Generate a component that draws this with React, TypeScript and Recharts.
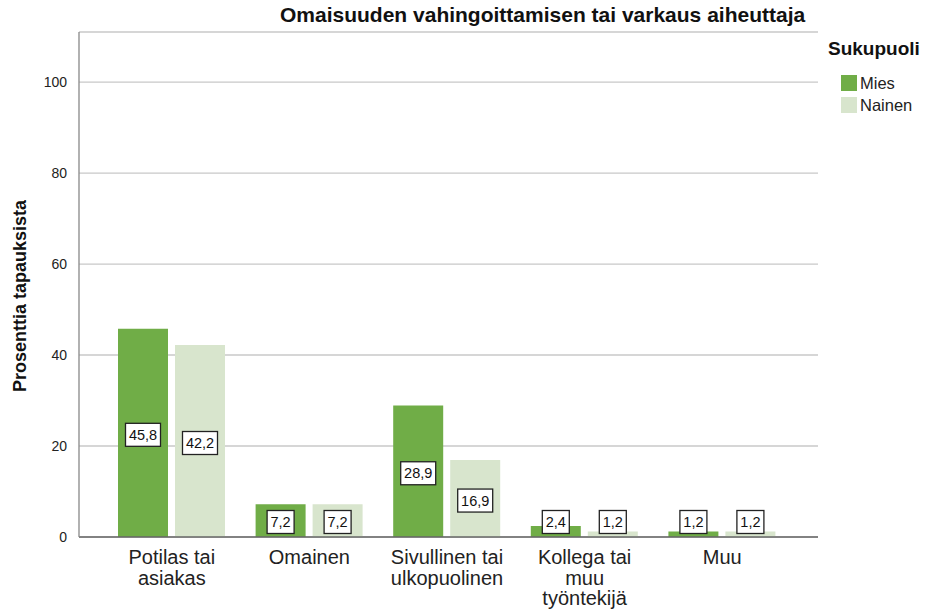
import { BarChart, Bar, XAxis, YAxis, CartesianGrid, LabelList } from 'recharts';

const categories = ['Potilas tai asiakas', 'Omainen', 'Sivullinen tai ulkopuolinen', 'Kollega tai muu työntekijä', 'Muu'];
const tickLines = [['Potilas tai', 'asiakas'], ['Omainen'], ['Sivullinen tai', 'ulkopuolinen'], ['Kollega tai', 'muu', 'työntekijä'], ['Muu']];
const mies = [45.8, 7.2, 28.9, 2.4, 1.2];
const nainen = [42.2, 7.2, 16.9, 1.2, 1.2];
const yTicks = [0, 20, 40, 60, 80, 100];
const seriesNames = ['Mies', 'Nainen'];

const data = categories.map((c, i) => ({ name: c, Mies: mies[i], Nainen: nainen[i] }));

const FONT = '"Liberation Sans", Arial, sans-serif';
const MIES = '#70ad47';
const NAINEN = '#d8e5cd';
const colors = [MIES, NAINEN];

const ValueBox = (props: any) => {
  const { x, y, width, height, value } = props;
  const txt = String(value).replace('.', ',');
  const bottom = y + height;
  const cy = Math.min(y + height / 2 + 2, bottom - 15);
  const cx = x + width / 2;
  const w = txt.length * 8 + 3;
  const h = 23;
  return (
    <g>
      <rect x={cx - w / 2} y={cy - h / 2} width={w} height={h} fill="#fff" stroke="#222" strokeWidth={1.3} />
      <text x={cx} y={cy + 5} textAnchor="middle" fontSize={14.5} fontFamily={FONT} fill="#111">
        {txt}
      </text>
    </g>
  );
};

const XTick = (props: any) => {
  const { x, y, index } = props;
  const lines = tickLines[index] || [];
  return (
    <g>
      {lines.map((l: string, i: number) => (
        <text key={i} x={x} y={y + 19 + i * 20.5} textAnchor="middle" fontSize={20} fontFamily={FONT} fill="#222">
          {l}
        </text>
      ))}
    </g>
  );
};

const YLabel = () => {
  const cx = 20;
  const cy = 296;
  return (
    <text
      x={cx}
      y={cy}
      transform={`rotate(-90 ${cx} ${cy})`}
      textAnchor="middle"
      dominantBaseline="central"
      fontSize={18}
      fontWeight="bold"
      fontFamily={FONT}
      fill="#111"
    >
      Prosenttia tapauksista
    </text>
  );
};

export default function App() {
  return (
    <div style={{ position: 'absolute', left: 0, top: 0, width: 931, height: 613, background: '#fff' }}>
      <div
        style={{
          position: 'absolute',
          left: 280,
          top: 3,
          fontFamily: FONT,
          fontWeight: 'bold',
          fontSize: 21,
          color: '#111',
          whiteSpace: 'nowrap',
        }}
      >
        Omaisuuden vahingoittamisen tai varkaus aiheuttaja
      </div>
      <div style={{ position: 'absolute', left: 828, top: 38, fontFamily: FONT }}>
        <div style={{ fontSize: 19, fontWeight: 'bold', color: '#111', height: 34 }}>Sukupuoli</div>
        {seriesNames.map((n, i) => (
          <div key={n} style={{ display: 'flex', alignItems: 'center', marginLeft: 13, height: 22 }}>
            <div style={{ width: 16, height: 16, background: colors[i], marginRight: 3 }} />
            <span style={{ fontSize: 16.5, color: '#222' }}>{n}</span>
          </div>
        ))}
      </div>
      <BarChart
        width={931}
        height={613}
        data={data}
        margin={{ top: 32, right: 113, bottom: 0, left: 0 }}
        barSize={50}
        barGap={7}
        style={{ position: 'absolute', left: 0, top: 0 }}
      >
        <CartesianGrid vertical={false} stroke="#c8c8c8" strokeWidth={1.3} />
        <XAxis
          dataKey="name"
          height={76}
          interval={0}
          tick={<XTick />}
          tickLine={false}
          axisLine={{ stroke: '#666', strokeWidth: 1.3 }}
          padding={{ left: 24, right: 27 }}
        />
        <YAxis
          width={79}
          domain={[0, 111]}
          ticks={yTicks}
          tickLine={false}
          axisLine={{ stroke: '#888', strokeWidth: 1.3 }}
          tick={{ fontSize: 14, fill: '#222', fontFamily: FONT }}
          tickMargin={6}
          label={<YLabel />}
        />
        {seriesNames.map((n, i) => (
          <Bar key={n} dataKey={n} fill={colors[i]} isAnimationActive={false}>
            <LabelList dataKey={n} content={<ValueBox />} />
          </Bar>
        ))}
      </BarChart>
    </div>
  );
}
